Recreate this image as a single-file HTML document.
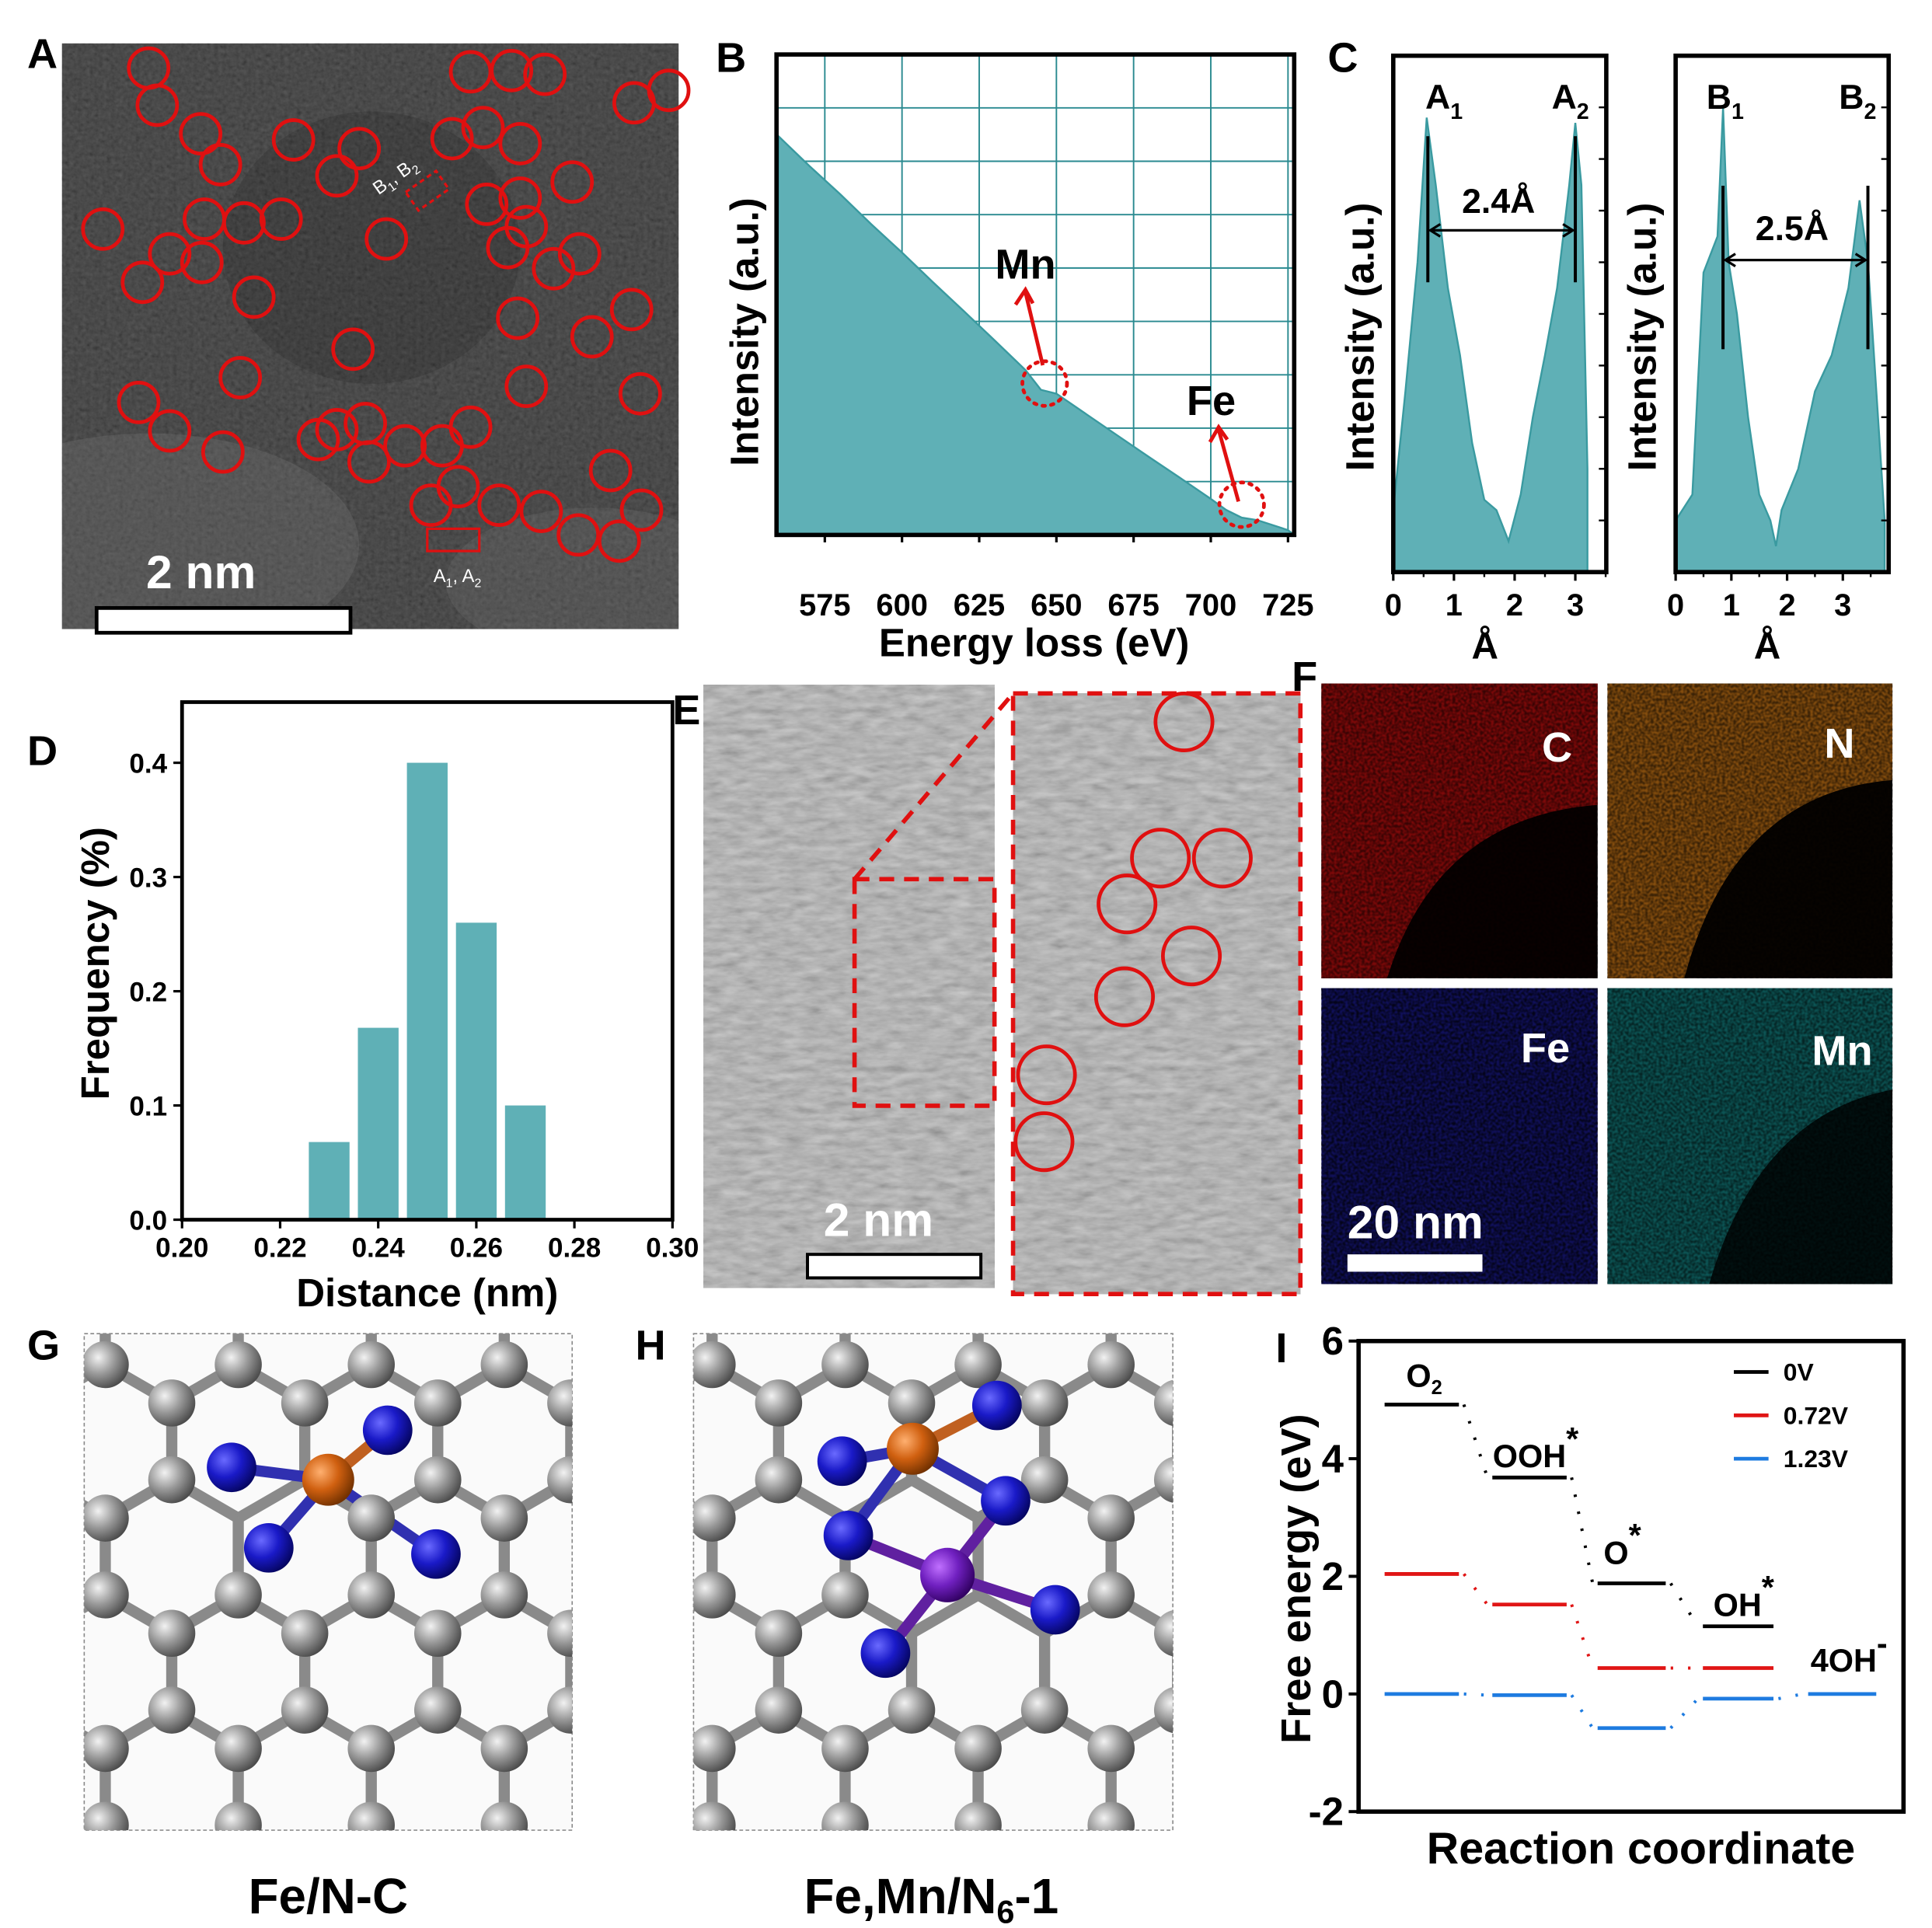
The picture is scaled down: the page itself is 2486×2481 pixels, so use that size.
<!DOCTYPE html>
<html><head><meta charset="utf-8"><style>
html,body{margin:0;padding:0;background:#fff;width:2486px;height:2481px;overflow:hidden;}
svg{display:block;font-family:"Liberation Sans",sans-serif;}
.b{font-weight:bold;}
</style></head><body>
<svg id="fig" width="2486" height="2481" viewBox="0 0 1560 1557" preserveAspectRatio="none" xmlns="http://www.w3.org/2000/svg">
<defs>
<filter id="grayNoise" x="0" y="0" width="100%" height="100%">
<feTurbulence type="fractalNoise" baseFrequency="0.3" numOctaves="2" seed="3"/>
<feColorMatrix type="matrix" values="0.33 0.33 0.33 0 0  0.33 0.33 0.33 0 0  0.33 0.33 0.33 0 0  0 0 0 0 1"/>
</filter>
<filter id="grayNoise2" x="0" y="0" width="100%" height="100%">
<feTurbulence type="fractalNoise" baseFrequency="0.06 0.18" numOctaves="3" seed="9"/>
<feColorMatrix type="matrix" values="0.33 0.33 0.33 0 0  0.33 0.33 0.33 0 0  0.33 0.33 0.33 0 0  0 0 0 0 1"/>
</filter>
<filter id="pixNoise" x="0" y="0" width="100%" height="100%">
<feTurbulence type="fractalNoise" baseFrequency="0.45" numOctaves="1" seed="5"/>
<feColorMatrix type="matrix" values="0 0 0 0 0  0 0 0 0 0  0 0 0 0 0  -2.2 0 0 0 1.6"/>
</filter>
<radialGradient id="gAtom" cx="0.35" cy="0.35" r="0.7"><stop offset="0" stop-color="#f2f2f2"/><stop offset="0.5" stop-color="#9a9a9a"/><stop offset="1" stop-color="#4a4a4a"/></radialGradient>
<radialGradient id="nAtom" cx="0.35" cy="0.35" r="0.7"><stop offset="0" stop-color="#6a6aff"/><stop offset="0.5" stop-color="#1a1ac8"/><stop offset="1" stop-color="#050560"/></radialGradient>
<radialGradient id="feAtom" cx="0.35" cy="0.35" r="0.7"><stop offset="0" stop-color="#ffb070"/><stop offset="0.5" stop-color="#d06010"/><stop offset="1" stop-color="#703000"/></radialGradient>
<radialGradient id="mnAtom" cx="0.35" cy="0.35" r="0.7"><stop offset="0" stop-color="#c070ff"/><stop offset="0.5" stop-color="#7020c0"/><stop offset="1" stop-color="#300060"/></radialGradient>
<clipPath id="clipA"><rect x="50" y="35" width="498" height="473"/></clipPath>
<clipPath id="clipG"><rect x="68" y="1077" width="394" height="401"/></clipPath>
<clipPath id="clipH"><rect x="560" y="1077" width="387" height="401"/></clipPath>
</defs>

<g>
<g clip-path="url(#clipA)">
<rect x="50" y="35" width="498" height="473" filter="url(#grayNoise)"/>
<rect x="50" y="35" width="498" height="473" fill="#1a1a1a" opacity="0.7"/>
<ellipse cx="120" cy="440" rx="170" ry="90" fill="#888" opacity="0.22"/>
<ellipse cx="480" cy="470" rx="120" ry="60" fill="#888" opacity="0.18"/>
<ellipse cx="300" cy="200" rx="120" ry="110" fill="#000" opacity="0.12"/>
</g>
<g id="circA" fill="none" stroke="#e01010" stroke-width="3"></g>
<rect x="330" y="145" width="30" height="18" fill="none" stroke="#e01010" stroke-width="2" stroke-dasharray="4,3" transform="rotate(-35 345 154)"/>
<rect x="345" y="427" width="42" height="18" fill="none" stroke="#e01010" stroke-width="2"/>
<text x="300" y="150" fill="#fff" font-size="15" transform="rotate(-35 315 145)">B<tspan font-size="10" dy="4">1</tspan><tspan dy="-4">, B</tspan><tspan font-size="10" dy="4">2</tspan></text>
<text x="350" y="470" fill="#fff" font-size="15">A<tspan font-size="10" dy="4">1</tspan><tspan dy="-4">, A</tspan><tspan font-size="10" dy="4">2</tspan></text>
<text class="b" x="118" y="475" fill="#fff" font-size="38">2 nm</text>
<rect x="78" y="491" width="205" height="20" fill="#fff" stroke="#000" stroke-width="3"/>
</g>

<g id="panelB"></g>
<g id="panelC"></g>
<g id="panelD"></g>

<g>
<rect x="568" y="553" width="235" height="487" filter="url(#grayNoise2)"/>
<rect x="568" y="553" width="235" height="487" fill="#a8a8a8" opacity="0.45"/>
<rect x="818" y="560" width="232" height="485" filter="url(#grayNoise2)"/>
<rect x="818" y="560" width="232" height="485" fill="#a8a8a8" opacity="0.45"/>
<rect x="818" y="560" width="232" height="485" fill="none" stroke="#e01010" stroke-width="3.5" stroke-dasharray="12,8"/>
<rect x="690" y="710" width="113" height="183" fill="none" stroke="#e01010" stroke-width="3.5" stroke-dasharray="12,8"/>
<line x1="690" y1="710" x2="818" y2="560" stroke="#e01010" stroke-width="3.5" stroke-dasharray="12,8"/>
<g id="circE" fill="none" stroke="#e01010" stroke-width="3"></g>
<text class="b" x="665" y="998" fill="#fff" font-size="38">2 nm</text>
<rect x="652" y="1013" width="140" height="19" fill="#fff" stroke="#000" stroke-width="2.5"/>
</g>

<g>
<rect x="1067" y="552" width="223" height="238" fill="#0a0000"/>
<path d="M1067 552 H1290 V650 Q1160 660 1120 790 H1067Z" fill="#8a0a0a" opacity="0.9"/>
<rect x="1298" y="552" width="230" height="238" fill="#080400"/>
<path d="M1298 552 H1528 V630 Q1400 640 1360 790 H1298Z" fill="#9a5a10" opacity="0.85"/>
<rect x="1067" y="798" width="223" height="239" fill="#10105a"/>
<rect x="1298" y="798" width="230" height="239" fill="#021010"/>
<path d="M1298 798 H1528 V880 Q1420 900 1380 1037 H1298Z" fill="#127a7a" opacity="0.65"/>
<rect x="1067" y="552" width="223" height="238" filter="url(#pixNoise)" opacity="0.55"/>
<rect x="1298" y="552" width="230" height="238" filter="url(#pixNoise)" opacity="0.55"/>
<rect x="1067" y="798" width="223" height="239" filter="url(#pixNoise)" opacity="0.7"/>
<rect x="1298" y="798" width="230" height="239" filter="url(#pixNoise)" opacity="0.55"/>
<text class="b" x="1245" y="615" fill="#fff" font-size="34">C</text>
<text class="b" x="1473" y="612" fill="#fff" font-size="34">N</text>
<text class="b" x="1228" y="858" fill="#fff" font-size="34">Fe</text>
<text class="b" x="1463" y="860" fill="#fff" font-size="34">Mn</text>
<text class="b" x="1088" y="1000" fill="#fff" font-size="38">20 nm</text>
<rect x="1088" y="1013" width="109" height="14" fill="#fff"/>
</g>

<g>
<rect x="68" y="1077" width="394" height="401" fill="#fafafa" stroke="#888" stroke-dasharray="3,2"/>
<g id="latG" clip-path="url(#clipG)"></g>
<text class="b" x="265" y="1545" font-size="40" text-anchor="middle">Fe/N-C</text>
</g>
<g>
<rect x="560" y="1077" width="387" height="401" fill="#fafafa" stroke="#888" stroke-dasharray="3,2"/>
<g id="latH" clip-path="url(#clipH)"></g>
<text class="b" x="752" y="1545" font-size="40" text-anchor="middle">Fe,Mn/N<tspan font-size="26" dy="8">6</tspan><tspan dy="-8">-1</tspan></text>
</g>

<g id="panelI"></g>

<g class="b" font-size="34">
<text x="22" y="55">A</text><text x="578" y="58">B</text><text x="1072" y="58">C</text>
<text x="22" y="618">D</text><text x="543" y="585">E</text><text x="1043" y="558">F</text>
<text x="22" y="1098">G</text><text x="513" y="1098">H</text><text x="1030" y="1100">I</text>
</g>
</svg>
<script>
const eelsEnergy = [560,570,580,590,600,610,620,630,640,645,650,660,670,680,690,700,705,710,715,725];
const eelsIntensity = [0.83,0.768,0.709,0.647,0.588,0.526,0.466,0.405,0.343,0.302,0.294,0.25,0.206,0.162,0.119,0.075,0.052,0.036,0.031,0.01];
const eelsTicks = [575,600,625,650,675,700,725];

const profAx = [0,0.2,0.4,0.55,0.7,0.9,1.1,1.3,1.5,1.7,1.9,2.1,2.3,2.5,2.7,2.9,3.0,3.1,3.2];
const profAy = [0.12,0.35,0.6,0.88,0.75,0.55,0.42,0.25,0.14,0.12,0.06,0.15,0.3,0.42,0.55,0.75,0.87,0.75,0.2];
const profBx = [0,0.3,0.5,0.75,0.85,0.95,1.1,1.3,1.5,1.7,1.8,1.9,2.2,2.5,2.8,3.1,3.3,3.45,3.75];
const profBy = [0.1,0.15,0.58,0.65,0.9,0.6,0.5,0.3,0.15,0.1,0.05,0.12,0.2,0.35,0.42,0.55,0.72,0.6,0.1];
const profTicks = [0,1,2,3];

const histDistance = [0.23,0.24,0.25,0.26,0.27];
const histFrequency = [0.068,0.168,0.40,0.26,0.10];
const histXTicks = [0.20,0.22,0.24,0.26,0.28,0.30];
const histYTicks = [0.0,0.1,0.2,0.3,0.4];

const stepNames = ["O2","OOH*","O*","OH*","4OH-"];
const energy0V = [4.92,3.68,1.88,1.15,null];
const energy072V = [2.04,1.52,0.44,0.44,null];
const energy123V = [0,-0.02,-0.58,-0.08,0];
const energyTicks = [6,4,2,0,-2];
const seriesLabels = ["0V","0.72V","1.23V"];

const NS="http://www.w3.org/2000/svg";
function mk(tag,attrs,parent,txt){const e=document.createElementNS(NS,tag);for(const k in attrs)e.setAttribute(k,attrs[k]);if(txt!==undefined)e.textContent=txt;parent.appendChild(e);return e;}

const circA=[[120,55],[127,85],[162,108],[178,133],[237,113],[290,120],[272,142],[365,112],[390,103],[420,116],[380,58],[413,57],[440,60],[512,83],[540,73],[83,185],[137,205],[163,212],[165,177],[197,180],[227,177],[115,228],[205,240],[312,193],[285,282],[194,305],[112,325],[137,348],[180,365],[257,355],[272,347],[295,342],[298,373],[327,360],[357,360],[380,345],[370,393],[348,408],[403,408],[437,413],[467,432],[500,437],[518,412],[493,380],[517,318],[425,312],[478,272],[510,250],[418,257],[447,217],[468,205],[410,200],[425,183],[393,165],[420,160],[462,147]];
const gA=document.getElementById('circA');
circA.forEach(p=>{const c=mk('circle',{cx:p[0],cy:p[1],r:16},gA);

});
const gE=document.getElementById('circE');
[[956,583],[937,693],[987,693],[910,730],[962,772],[908,805],[845,868],[843,922]].forEach(p=>{const c=mk('circle',{cx:p[0],cy:p[1],r:23},gE);

});

(function(){
const g=document.getElementById('panelB');
const L=627,R=1045,T=44,B=432;
const x=e=>666+(e-575)*(1040-666)/150;
const y=v=>B-v*(B-T);
for(let i=1;i<9;i++){mk('line',{x1:L,x2:R,y1:T+i*(B-T)/9,y2:T+i*(B-T)/9,stroke:'#2a8a90','stroke-width':1.2},g);}
eelsTicks.forEach(t=>{mk('line',{x1:x(t),x2:x(t),y1:T,y2:B,stroke:'#2a8a90','stroke-width':1.2},g);});
let d='M'+L+','+B;
eelsEnergy.forEach((e,i)=>{d+=' L'+Math.max(L,x(e)).toFixed(1)+','+y(eelsIntensity[i]).toFixed(1);});
d+=' L'+R+','+B+'Z';
const a=mk('path',{d:d,fill:'#5fb0b6',stroke:'#3a9aa0','stroke-width':1.5},g);


mk('rect',{x:L,y:T,width:R-L,height:B-T,fill:'none',stroke:'#000','stroke-width':3.5},g);
eelsTicks.forEach(t=>{mk('line',{x1:x(t),x2:x(t),y1:B,y2:B+6,stroke:'#000','stroke-width':2},g);
const tl=mk('text',{x:x(t),y:B+65,'font-size':25,'font-weight':'bold','text-anchor':'middle'},g,String(t));

});
mk('text',{x:835,y:530,'font-size':32,'font-weight':'bold','text-anchor':'middle'},g,'Energy loss (eV)');
mk('text',{x:0,y:0,'font-size':32,'font-weight':'bold','text-anchor':'middle',transform:'translate(612,268) rotate(-90)'},g,'Intensity (a.u.)');
mk('text',{x:828,y:225,'font-size':34,'font-weight':'bold','text-anchor':'middle'},g,'Mn');
mk('text',{x:978,y:335,'font-size':34,'font-weight':'bold','text-anchor':'middle'},g,'Fe');
mk('circle',{cx:x(645)+3,cy:y(0.31)-2,r:18,fill:'none',stroke:'#e01010','stroke-width':3,'stroke-dasharray':'2,5','stroke-linecap':'round'},g);
mk('circle',{cx:x(710),cy:y(0.05)-5,r:18,fill:'none',stroke:'#e01010','stroke-width':3,'stroke-dasharray':'2,5','stroke-linecap':'round'},g);
mk('path',{d:'M842,295 L828,236 M820,246 L828,234 L834,245',fill:'none',stroke:'#e01010','stroke-width':3},g);
mk('path',{d:'M1000,405 L984,347 M977,357 L984,345 L991,355',fill:'none',stroke:'#e01010','stroke-width':3},g);
})();

(function(){
const g=document.getElementById('panelC');
function prof(L,R,T,B,px,xs,ys){
 const x=v=>L+v*px, y=v=>B-v*(B-T);
 let d='M'+L+','+B;
 xs.forEach((v,i)=>{d+=' L'+x(v).toFixed(1)+','+y(ys[i]).toFixed(1);});
 d+=' L'+x(xs[xs.length-1])+','+B+'Z';
 const p=mk('path',{d:d,fill:'#5fb0b6',stroke:'#3a9aa0','stroke-width':1.5},g);
 
 
 mk('rect',{x:L,y:T,width:R-L,height:B-T,fill:'none',stroke:'#000','stroke-width':3.5},g);
 for(let i=1;i<10;i++){mk('line',{x1:R-6,x2:R,y1:T+i*(B-T)/10,y2:T+i*(B-T)/10,stroke:'#000','stroke-width':1.5},g);}
 profTicks.forEach(t=>{mk('line',{x1:x(t),x2:x(t),y1:B,y2:B+7,stroke:'#000','stroke-width':2},g);
 mk('line',{x1:x(t+0.5),x2:x(t+0.5),y1:B,y2:B+4,stroke:'#000','stroke-width':1.5},g);
 mk('text',{x:x(t),y:B+35,'font-size':25,'font-weight':'bold','text-anchor':'middle'},g,String(t));});
 mk('text',{x:(L+R)/2-12,y:B+70,'font-size':30,'font-weight':'bold','text-anchor':'middle'},g,'Å');
 mk('text',{x:0,y:0,'font-size':32,'font-weight':'bold','text-anchor':'middle',transform:'translate('+(L-16)+',272) rotate(-90)'},g,'Intensity (a.u.)');
 return x;
}
const xa=prof(1125,1297,45,462,49,profAx,profAy);
const xb=prof(1353,1525,45,462,45,profBx,profBy);
function ann(x1,x2,y1,y2,ya,lab,lx,ly,n1,n2,p1,p2){
 mk('line',{x1:x1,x2:x1,y1:y1,y2:y2,stroke:'#000','stroke-width':2.5},g);
 mk('line',{x1:x2,x2:x2,y1:y1,y2:y2,stroke:'#000','stroke-width':2.5},g);
 mk('line',{x1:x1+3,x2:x2-3,y1:ya,y2:ya,stroke:'#000','stroke-width':2},g);
 mk('path',{d:`M${x1+10},${ya-5} L${x1+2},${ya} L${x1+10},${ya+5} M${x2-10},${ya-5} L${x2-2},${ya} L${x2-10},${ya+5}`,fill:'none',stroke:'#000','stroke-width':2},g);
 mk('text',{x:lx,y:ly,'font-size':28,'font-weight':'bold','text-anchor':'middle'},g,lab);
 const t1=mk('text',{x:p1,y:88,'font-size':28,'font-weight':'bold','text-anchor':'middle'},g,n1[0]);
 mk('tspan',{'font-size':18,dy:8},t1,n1[1]);
 const t2=mk('text',{x:p2,y:88,'font-size':28,'font-weight':'bold','text-anchor':'middle'},g,n2[0]);
 mk('tspan',{'font-size':18,dy:8},t2,n2[1]);
}
ann(xa(0.57),xa(3.0),110,228,186,'2.4Å',1210,172,['A','1'],['A','2'],1166,1268);
ann(xb(0.85),xb(3.45),150,282,210,'2.5Å',1447,194,['B','1'],['B','2'],1393,1500);
})();

(function(){
const g=document.getElementById('panelD');
const L=147,R=543,T=567,B=985;
const x=v=>L+(v-0.20)*(R-L)/0.10;
const y=v=>B-v*922.5;
histDistance.forEach((dv,i)=>{const w=0.0083*(R-L)/0.10;
 const r=mk('rect',{x:x(dv)-w/2,y:y(histFrequency[i]),width:w,height:B-y(histFrequency[i]),fill:'#5fb0b6'},g);
 
 });
mk('rect',{x:L,y:T,width:R-L,height:B-T,fill:'none',stroke:'#000','stroke-width':3},g);
histXTicks.forEach(t=>{mk('line',{x1:x(t),x2:x(t),y1:B,y2:B+7,stroke:'#000','stroke-width':2},g);
 mk('text',{x:x(t),y:B+30,'font-size':22,'font-weight':'bold','text-anchor':'middle'},g,t.toFixed(2));});
histYTicks.forEach(t=>{mk('line',{x1:L-7,x2:L,y1:y(t),y2:y(t),stroke:'#000','stroke-width':2},g);
 mk('text',{x:L-12,y:y(t)+8,'font-size':22,'font-weight':'bold','text-anchor':'end'},g,t.toFixed(1));});
mk('text',{x:345,y:1055,'font-size':32,'font-weight':'bold','text-anchor':'middle'},g,'Distance (nm)');
mk('text',{x:0,y:0,'font-size':32,'font-weight':'bold','text-anchor':'middle',transform:'translate(88,778) rotate(-90)'},g,'Frequency (%)');
})();

(function(){
const g=document.getElementById('panelI');
const L=1097,R=1537,T=1083,B=1463;
const y=v=>1368-v*47.5;
const xs=[[1118,1178],[1205,1265],[1290,1345],[1375,1432],[1460,1515]];
mk('rect',{x:L,y:T,width:R-L,height:B-T,fill:'none',stroke:'#000','stroke-width':3.5},g);
energyTicks.forEach(t=>{mk('line',{x1:L-8,x2:L,y1:y(t),y2:y(t),stroke:'#000','stroke-width':2.5},g);
 mk('text',{x:L-12,y:y(t)+11,'font-size':32,'font-weight':'bold','text-anchor':'end'},g,String(t));});
mk('text',{x:0,y:0,'font-size':34,'font-weight':'bold','text-anchor':'middle',transform:'translate(1058,1275) rotate(-90)'},g,'Free energy (eV)');
mk('text',{x:1325,y:1505,'font-size':36,'font-weight':'bold','text-anchor':'middle'},g,'Reaction coordinate');
const series=[[energy0V,'#000'],[energy072V,'#e01515'],[energy123V,'#1e7be0']];
series.forEach(([vals,col])=>{
 vals.forEach((v,i)=>{ if(v===null) return;
  const l=mk('line',{x1:xs[i][0],x2:xs[i][1],y1:y(v),y2:y(v),stroke:col,'stroke-width':3},g);
  
  
  const nv=vals[i+1];
  if(i<vals.length-1 && nv!==null && nv!==undefined){
   mk('line',{x1:xs[i][1]+4,x2:xs[i+1][0]-4,y1:y(v),y2:y(nv),stroke:col,'stroke-width':2.5,'stroke-dasharray':'2,12'},g);
  }});
});
seriesLabels.forEach((s,i)=>{const yy=1108+i*35;
 mk('line',{x1:1400,x2:1428,y1:yy,y2:yy,stroke:series[i][1],'stroke-width':3},g);
 mk('text',{x:1440,y:yy+7,'font-size':20,'font-weight':'bold'},g,s);});
function lab(x,yy,main,sub,sup){const t=mk('text',{x:x,y:yy,'font-size':26,'font-weight':'bold','text-anchor':'middle'},g,main);
 if(sub) mk('tspan',{'font-size':16,dy:6},t,sub);
 if(sup) mk('tspan',{'font-size':26,dy:-14},t,sup);}
lab(1150,1120,'O','2');
lab(1240,1185,'OOH',null,'*');
lab(1310,1263,'O',null,'*');
lab(1408,1305,'OH',null,'*');
lab(1493,1350,'4OH',null,'-');
})();

function lattice(id,ox,oy,specials,bondsExtra){
 const g=document.getElementById(id);
 const a=62, nodes=[];
 for(let r=-2;r<10;r++){for(let c=-2;c<10;c++){
  const bx=ox+c*a*Math.sqrt(3), by=oy+r*a*1.5;
  const sx=(r%2? a*Math.sqrt(3)/2:0);
  nodes.push([bx+sx,by],[bx+sx,by+a]);
 }}
 for(let i=0;i<nodes.length;i++)for(let j=i+1;j<nodes.length;j++){
  const dx=nodes[i][0]-nodes[j][0],dy=nodes[i][1]-nodes[j][1];
  const d=Math.hypot(dx,dy); if(d>a*0.9&&d<a*1.1) mk('line',{x1:nodes[i][0],y1:nodes[i][1],x2:nodes[j][0],y2:nodes[j][1],stroke:'#8a8a8a','stroke-width':9},g);
 }
 (bondsExtra||[]).forEach(b=>mk('line',{x1:b[0],y1:b[1],x2:b[2],y2:b[3],stroke:b[4],'stroke-width':9},g));
 nodes.forEach(n=>{let skip=false;specials.forEach(s=>{if(Math.hypot(s[0]-n[0],s[1]-n[1])<35)skip=true;});
  if(!skip){const c=mk('circle',{cx:n[0],cy:n[1],r:19,fill:'url(#gAtom)'},g);
  
  }});
 specials.forEach(s=>{const c=mk('circle',{cx:s[0],cy:s[1],r:s[3]||20,fill:s[2]},g);
  
  });
}
lattice('latG',85,1040,[[265,1195,'url(#feAtom)',21],[187,1185,'url(#nAtom)'],[313,1155,'url(#nAtom)'],[352,1255,'url(#nAtom)'],[217,1250,'url(#nAtom)']],
 [[265,1195,187,1185,'#3030b0'],[265,1195,313,1155,'#c06020'],[265,1195,352,1255,'#3030b0'],[265,1195,217,1250,'#3030b0']]);
lattice('latH',575,1040,[[737,1170,'url(#feAtom)',21],[765,1272,'url(#mnAtom)',22],[680,1180,'url(#nAtom)'],[805,1135,'url(#nAtom)'],[812,1212,'url(#nAtom)'],[685,1240,'url(#nAtom)'],[852,1300,'url(#nAtom)'],[715,1335,'url(#nAtom)']],
 [[737,1170,680,1180,'#3030b0'],[737,1170,805,1135,'#c06020'],[737,1170,812,1212,'#3030b0'],[737,1170,685,1240,'#3030b0'],[765,1272,685,1240,'#6020a0'],[765,1272,812,1212,'#6020a0'],[765,1272,852,1300,'#6020a0'],[765,1272,715,1335,'#6020a0']]);
</script>
</body></html>
